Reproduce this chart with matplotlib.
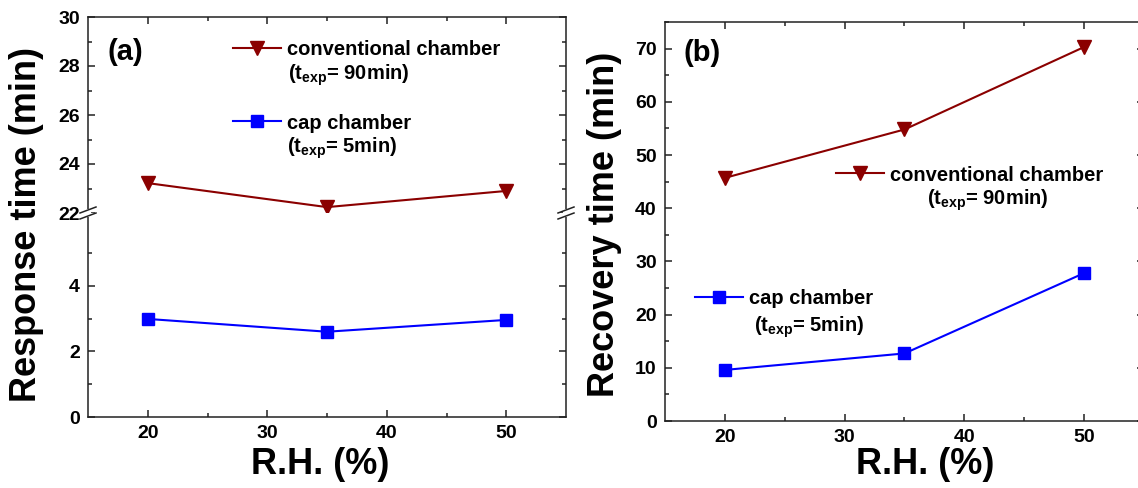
import matplotlib
matplotlib.use('Agg')
from matplotlib import pyplot as plt
from matplotlib.ticker import MultipleLocator, FixedLocator
from matplotlib.lines import Line2D
from matplotlib.patches import Rectangle

# data
rh = [20, 35, 50]
resp_conv = [23.22, 22.24, 22.9]
resp_cap = [2.99, 2.6, 2.96]
rec_conv = [45.7, 54.8, 70.3]
rec_cap = [9.6, 12.7, 27.8]

conv_label = 'conventional chamber'
cap_label = 'cap chamber'
conv_sub = '(t$_{exp}$= 90min)'
cap_sub = '(t$_{exp}$= 5min)'

plt.rcParams['font.family'] = ['Liberation Sans', 'DejaVu Sans']
plt.rcParams['font.weight'] = 'bold'
plt.rcParams['mathtext.fontset'] = 'custom'
plt.rcParams['mathtext.rm'] = 'Liberation Sans:bold'
plt.rcParams['mathtext.it'] = 'Liberation Sans:bold'
plt.rcParams['mathtext.bf'] = 'Liberation Sans:bold'
plt.rcParams['mathtext.default'] = 'rm'

W, H = 1138, 488
red = '#8b0000'
blue = '#0000ff'
ink = '#222222'

fig = plt.figure(figsize=(W / 100, H / 100), dpi=100)


def box(x0, y0, x1, y1):
    # pixel box (y down) -> figure fraction
    return [x0 / W, 1 - y1 / H, (x1 - x0) / W, (y1 - y0) / H]


def style(ax):
    ax.tick_params(which='both', direction='in', top=True, right=True,
                   width=1.1, color=ink, labelsize=14)
    ax.tick_params(which='major', length=5)
    ax.tick_params(which='minor', length=3)
    ax.tick_params(axis='y', pad=6)
    ax.tick_params(axis='x', pad=6)
    for s in ax.spines.values():
        s.set_linewidth(1.1)
        s.set_color(ink)
    ax.set_xlim(15, 55)
    ax.xaxis.set_major_locator(FixedLocator([20, 30, 40, 50]))
    ax.xaxis.set_minor_locator(FixedLocator([25, 35, 45]))


# (a) with broken y axis
ax_up = fig.add_axes(box(88, 17, 566, 213))
ax_lo = fig.add_axes(box(88, 213, 566, 417))
style(ax_up)
style(ax_lo)

ax_up.set_ylim(22, 30)
ax_up.yaxis.set_major_locator(MultipleLocator(2))
ax_up.yaxis.set_minor_locator(MultipleLocator(1))
ax_up.spines['bottom'].set_visible(False)
ax_up.tick_params(which='both', bottom=False, labelbottom=False)

ax_lo.set_ylim(0, 6.22)
ax_lo.yaxis.set_major_locator(FixedLocator([0, 2, 4]))
ax_lo.yaxis.set_minor_locator(FixedLocator([1, 3, 5]))
ax_lo.spines['top'].set_visible(False)
ax_lo.tick_params(which='both', top=False)

l_conv, = ax_up.plot(rh, resp_conv, color=red, marker='v', ms=10, lw=1.5, clip_on=False)
l_cap, = ax_lo.plot(rh, resp_cap, color=blue, marker='s', ms=8.5, lw=1.5, clip_on=False)

leg_kw = dict(loc='center left', frameon=False, borderpad=0, borderaxespad=0,
              handlelength=2.4, handletextpad=0.3, fontsize=14.5)
leg = ax_up.legend([l_conv], [conv_label], bbox_to_anchor=(0.3033, 0.832), **leg_kw)
ax_up.add_artist(leg)
ax_up.legend([l_cap], [cap_label], bbox_to_anchor=(0.3033, 0.459), **leg_kw)
ax_up.text(0.418, 0.704, conv_sub, transform=ax_up.transAxes, ha='left', va='center', fontsize=14.5)
ax_up.text(0.416, 0.332, cap_sub, transform=ax_up.transAxes, ha='left', va='center', fontsize=14.5)
ax_up.text(0.04, 0.821, '(a)', transform=ax_up.transAxes, ha='left', va='center', fontsize=21)

# break marks on both spines
for sx in [88, 566]:
    fig.add_artist(Rectangle(((sx - 3) / W, 1 - 217 / H), 6 / W, 8 / H,
                             transform=fig.transFigure, facecolor='white', edgecolor='none'))
    for yc in [210, 216]:
        fig.add_artist(Line2D([(sx - 8) / W, (sx + 8) / W], [1 - (yc + 3) / H, 1 - (yc - 3) / H],
                              transform=fig.transFigure, color=ink, lw=1.1))

fig.text(27 / W, 1 - 225 / H, 'Response time (min)', rotation=90, ha='center', va='center', fontsize=26)
fig.text(320 / W, 1 - 465 / H, 'R.H. (%)', ha='center', va='center', fontsize=26)

# (b)
ax_b = fig.add_axes(box(665, 22, 1144, 421))
style(ax_b)
ax_b.set_ylim(0, 75)
ax_b.yaxis.set_major_locator(MultipleLocator(10))
ax_b.yaxis.set_minor_locator(MultipleLocator(5))

r_conv, = ax_b.plot(rh, rec_conv, color=red, marker='v', ms=10, lw=1.5, clip_on=False)
r_cap, = ax_b.plot(rh, rec_cap, color=blue, marker='s', ms=8.5, lw=1.5, clip_on=False)

leg = ax_b.legend([r_conv], [conv_label], bbox_to_anchor=(0.357, 0.6165), **leg_kw)
ax_b.add_artist(leg)
ax_b.legend([r_cap], [cap_label], bbox_to_anchor=(0.0626, 0.308), **leg_kw)
ax_b.text(0.547, 0.554, conv_sub, transform=ax_b.transAxes, ha='left', va='center', fontsize=14.5)
ax_b.text(0.186, 0.2356, cap_sub, transform=ax_b.transAxes, ha='left', va='center', fontsize=14.5)
ax_b.text(0.0376, 0.922, '(b)', transform=ax_b.transAxes, ha='left', va='center', fontsize=21)

fig.text(605 / W, 1 - 224 / H, 'Recovery time (min)', rotation=90, ha='center', va='center', fontsize=26)
fig.text(925 / W, 1 - 465 / H, 'R.H. (%)', ha='center', va='center', fontsize=26)

fig.savefig('out.png', dpi=100)
